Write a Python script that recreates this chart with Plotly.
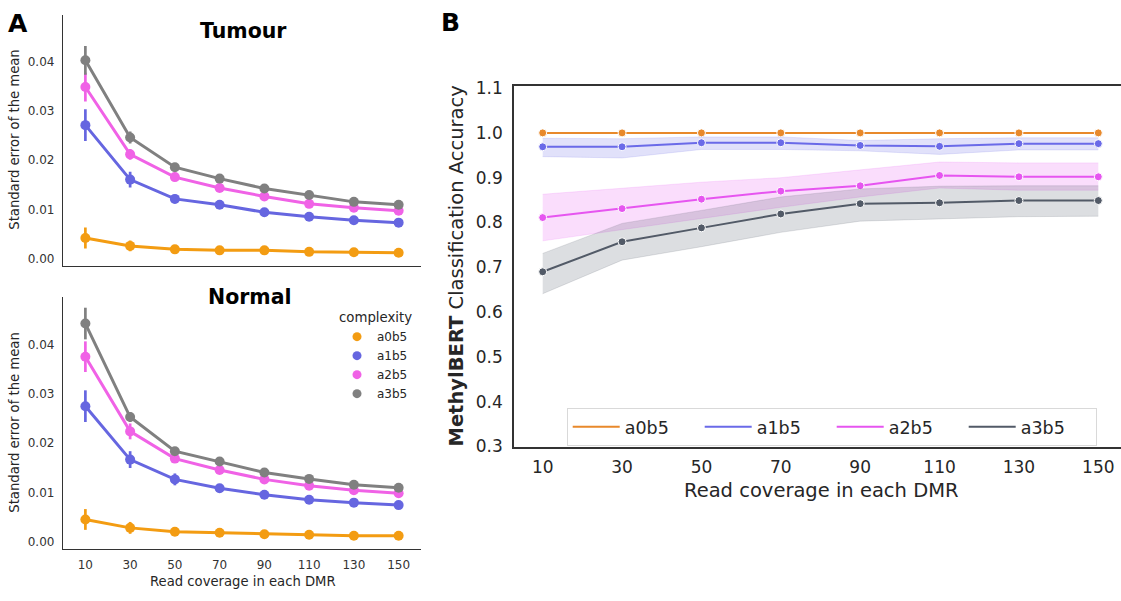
import plotly.graph_objects as go

# ---------------- data ----------------
coverage = [10, 30, 50, 70, 90, 110, 130, 150]
cov_labels = ["10", "30", "50", "70", "90", "110", "130", "150"]
complexities = ["a0b5", "a1b5", "a2b5", "a3b5"]

# Panel A - Tumour: standard error of the mean (point estimate and CI half width)
tumour_a0b5 = [0.0043, 0.0027, 0.0020, 0.0018, 0.0018, 0.0015, 0.0014, 0.0013]
tumour_a1b5 = [0.0271, 0.0161, 0.0122, 0.0110, 0.0095, 0.0086, 0.0079, 0.0074]
tumour_a2b5 = [0.0348, 0.0212, 0.0166, 0.0144, 0.0127, 0.0112, 0.0104, 0.0098]
tumour_a3b5 = [0.0402, 0.0246, 0.0186, 0.0163, 0.0143, 0.0130, 0.0116, 0.0110]
tumour_a0b5_ci = [0.0021, 0.0011, 0.0005, 0.0004, 0.0004, 0.0003, 0.0003, 0.0003]
tumour_a1b5_ci = [0.0032, 0.0016, 0.0009, 0.0007, 0.0005, 0.0004, 0.0004, 0.0004]
tumour_a2b5_ci = [0.0029, 0.0011, 0.0007, 0.0005, 0.0004, 0.0004, 0.0003, 0.0003]
tumour_a3b5_ci = [0.0029, 0.0012, 0.0006, 0.0005, 0.0004, 0.0004, 0.0003, 0.0003]

# Panel A - Normal
normal_a0b5 = [0.0046, 0.0029, 0.0021, 0.0019, 0.0016, 0.0015, 0.0013, 0.0013]
normal_a1b5 = [0.0275, 0.0167, 0.0127, 0.0109, 0.0096, 0.0086, 0.0080, 0.0075]
normal_a2b5 = [0.0375, 0.0224, 0.0169, 0.0146, 0.0127, 0.0114, 0.0105, 0.0099]
normal_a3b5 = [0.0442, 0.0253, 0.0184, 0.0163, 0.0141, 0.0128, 0.0116, 0.0110]
normal_a0b5_ci = [0.0021, 0.0012, 0.0005, 0.0004, 0.0004, 0.0003, 0.0003, 0.0003]
normal_a1b5_ci = [0.0032, 0.0017, 0.0012, 0.0008, 0.0005, 0.0004, 0.0004, 0.0004]
normal_a2b5_ci = [0.0031, 0.0016, 0.0008, 0.0006, 0.0005, 0.0004, 0.0003, 0.0003]
normal_a3b5_ci = [0.0032, 0.0010, 0.0006, 0.0005, 0.0004, 0.0004, 0.0003, 0.0003]

# Panel B - MethylBERT classification accuracy (mean, lower and upper band)
acc_a0b5 = [1.000, 1.000, 1.000, 1.000, 1.000, 1.000, 1.000, 1.000]
acc_a1b5 = [0.969, 0.969, 0.978, 0.978, 0.972, 0.970, 0.976, 0.976]
acc_a1b5_lo = [0.947, 0.944, 0.963, 0.963, 0.960, 0.952, 0.962, 0.962]
acc_a1b5_hi = [0.988, 0.987, 0.991, 0.991, 0.983, 0.987, 0.989, 0.989]
acc_a2b5 = [0.811, 0.831, 0.852, 0.870, 0.882, 0.905, 0.902, 0.902]
acc_a2b5_lo = [0.759, 0.784, 0.810, 0.834, 0.857, 0.877, 0.872, 0.872]
acc_a2b5_hi = [0.863, 0.877, 0.890, 0.900, 0.917, 0.935, 0.933, 0.933]
acc_a3b5 = [0.690, 0.757, 0.788, 0.819, 0.842, 0.844, 0.849, 0.849]
acc_a3b5_lo = [0.641, 0.716, 0.746, 0.778, 0.803, 0.808, 0.813, 0.814]
acc_a3b5_hi = [0.731, 0.798, 0.827, 0.857, 0.875, 0.881, 0.882, 0.882]

# ---------------- styles ----------------
W, H = 1121, 601
FONT = "DejaVu Sans"
colors_a = {"a0b5": "#f39c12", "a1b5": "#6666e0", "a2b5": "#f062e6", "a3b5": "#808080"}
colors_b = {"a0b5": "#e8892b", "a1b5": "#6a6ae8", "a2b5": "#e655f0", "a3b5": "#525a67"}
fills_b = {"a1b5": "rgba(106,106,232,0.20)", "a2b5": "rgba(230,85,240,0.20)", "a3b5": "rgba(82,90,103,0.20)"}


def px_x(p):
    return p / W


def px_y(p):
    return 1 - p / H


tumour = {"a0b5": (tumour_a0b5, tumour_a0b5_ci), "a1b5": (tumour_a1b5, tumour_a1b5_ci),
          "a2b5": (tumour_a2b5, tumour_a2b5_ci), "a3b5": (tumour_a3b5, tumour_a3b5_ci)}
normal = {"a0b5": (normal_a0b5, normal_a0b5_ci), "a1b5": (normal_a1b5, normal_a1b5_ci),
          "a2b5": (normal_a2b5, normal_a2b5_ci), "a3b5": (normal_a3b5, normal_a3b5_ci)}
accuracy = {"a0b5": (acc_a0b5, None, None), "a1b5": (acc_a1b5, acc_a1b5_lo, acc_a1b5_hi),
            "a2b5": (acc_a2b5, acc_a2b5_lo, acc_a2b5_hi), "a3b5": (acc_a3b5, acc_a3b5_lo, acc_a3b5_hi)}

fig = go.Figure()

# Panel A traces
for data, xa, ya in [(tumour, "x", "y"), (normal, "x2", "y2")]:
    for c in complexities:
        vals, ci = data[c]
        fig.add_trace(go.Scatter(
            x=cov_labels, y=vals, mode="lines+markers", xaxis=xa, yaxis=ya,
            line=dict(color=colors_a[c], width=3),
            marker=dict(color=colors_a[c], size=10),
            error_y=dict(type="data", array=ci, visible=True, color=colors_a[c], thickness=2.7, width=0),
            showlegend=False, hoverinfo="x+y"))

# Panel A legend entries (markers only)
for c in complexities:
    fig.add_trace(go.Scatter(x=[None], y=[None], mode="markers", xaxis="x2", yaxis="y2",
                             marker=dict(color=colors_a[c], size=9), name=c, legend="legend2"))

# Panel B traces
for c in complexities:
    vals, lo, hi = accuracy[c]
    if lo is not None:
        edge = fills_b[c]
        fig.add_trace(go.Scatter(x=coverage, y=hi, mode="lines", xaxis="x3", yaxis="y3",
                                 line=dict(color=edge, width=0.8), showlegend=False, hoverinfo="skip"))
        fig.add_trace(go.Scatter(x=coverage, y=lo, mode="lines", xaxis="x3", yaxis="y3", fill="tonexty",
                                 fillcolor=fills_b[c], line=dict(color=edge, width=0.8),
                                 showlegend=False, hoverinfo="skip"))
    fig.add_trace(go.Scatter(x=coverage, y=vals, mode="lines+markers", xaxis="x3", yaxis="y3",
                             line=dict(color=colors_b[c], width=2),
                             marker=dict(color=colors_b[c], size=8, line=dict(color="white", width=1)),
                             showlegend=False))

for c in complexities:
    fig.add_trace(go.Scatter(x=[None], y=[None], mode="lines", xaxis="x3", yaxis="y3",
                             line=dict(color=colors_b[c], width=2), name=c, legend="legend"))

axis_a_common = dict(showgrid=False, zeroline=False, showline=True, linecolor="#333333", linewidth=1.3,
                     ticks="", tickfont=dict(family=FONT, size=12, color="#333333"))

fig.update_layout(
    width=W, height=H, margin=dict(l=0, r=0, t=0, b=0),
    paper_bgcolor="white", plot_bgcolor="white",
    font=dict(family=FONT, color="#262626"),
    xaxis=dict(domain=[px_x(63), px_x(421)], anchor="y", type="category", range=[-0.5, 7.5],
               showticklabels=False, **axis_a_common),
    yaxis=dict(domain=[px_y(265.5), px_y(7)], anchor="x", range=[-0.00127, 0.0494],
               tickvals=[0, 0.01, 0.02, 0.03, 0.04], tickformat=".2f", ticklabelstandoff=5, **axis_a_common),
    xaxis2=dict(domain=[px_x(63), px_x(421)], anchor="y2", type="category", range=[-0.5, 7.5],
                ticklabelstandoff=4, **axis_a_common),
    yaxis2=dict(domain=[px_y(557.7), px_y(298)], anchor="x2", range=[-0.00137, 0.04955],
                tickvals=[0, 0.01, 0.02, 0.03, 0.04], tickformat=".2f", ticklabelstandoff=5, **axis_a_common),
    xaxis3=dict(domain=[px_x(514), 1.0], anchor="y3", range=[2.77, 155.72],
                tickvals=coverage, ticktext=cov_labels, showgrid=False, zeroline=False,
                showline=True, mirror=True, linecolor="#333333", linewidth=1.6, ticks="",
                ticklabelstandoff=4, tickfont=dict(family=FONT, size=17, color="#262626")),
    yaxis3=dict(domain=[px_y(452.3), px_y(80.7)], anchor="x3", range=[0.2995, 1.104],
                tickvals=[0.3, 0.4, 0.5, 0.6, 0.7, 0.8, 0.9, 1.0, 1.1], tickformat=".1f",
                showgrid=False, zeroline=False, showline=True, linecolor="#333333", linewidth=1.6,
                ticks="", ticklabelstandoff=6, tickfont=dict(family=FONT, size=17, color="#262626")),
    legend=dict(orientation="h", x=px_x(566.7), y=px_y(412.3), xanchor="left", yanchor="top",
                traceorder="normal",
                bgcolor="rgba(255,255,255,0.8)", bordercolor="#d9d9d9", borderwidth=1,
                font=dict(family=FONT, size=17.5, color="#262626"), entrywidth=70, itemwidth=47),
    legend2=dict(orientation="v", x=px_x(337), y=px_y(306), xanchor="left", yanchor="top",
                 traceorder="normal", bgcolor="rgba(0,0,0,0)", borderwidth=0,
                 title=dict(text="complexity", font=dict(family=FONT, size=13.3, color="#262626")),
                 font=dict(family=FONT, size=12, color="#262626")),
)

annotations = [
    dict(text="<b>A</b>", x=px_x(18), y=px_y(16), font=dict(size=25, color="black")),
    dict(text="<b>B</b>", x=px_x(450), y=px_y(15), font=dict(size=25, color="black")),
    dict(text="<b>Tumour</b>", x=px_x(243), y=px_y(23.3), font=dict(size=20.5, color="black")),
    dict(text="<b>Normal</b>", x=px_x(249.5), y=px_y(298.3), font=dict(size=20.5, color="black")),
    dict(text="Standard error of the mean", x=px_x(15), y=px_y(135.8), textangle=-90,
         font=dict(size=13.2, color="#262626")),
    dict(text="Standard error of the mean", x=px_x(15), y=px_y(427.5), textangle=-90,
         font=dict(size=13.2, color="#262626")),
    dict(text="Read coverage in each DMR", x=px_x(242.7), y=px_y(591.5),
         font=dict(size=13.2, color="#262626")),
    dict(text="<b>MethylBERT</b> Classification Accuracy", x=px_x(457), y=px_y(266.5), textangle=-90,
         font=dict(size=19.5, color="#262626")),
    dict(text="Read coverage in each DMR", x=px_x(821), y=px_y(497.3),
         font=dict(size=19.5, color="#262626")),
]
for a in annotations:
    a.update(xref="paper", yref="paper", showarrow=False, xanchor="center", yanchor="middle")
    a["font"]["family"] = FONT
fig.update_layout(annotations=annotations)

fig.write_html("out.html")
